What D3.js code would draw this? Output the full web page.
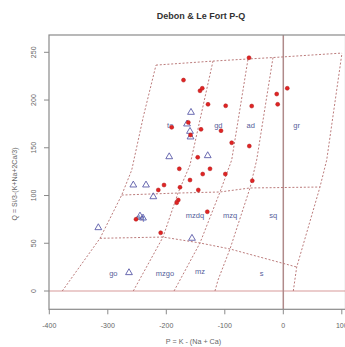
<!DOCTYPE html>
<html>
<head>
<meta charset="utf-8">
<script src="https://cdnjs.cloudflare.com/ajax/libs/d3/7.8.5/d3.min.js"></script>
<style>
  body { margin: 0; background: #fff; }
  text { font-family: "Liberation Sans", Arial, sans-serif; }
</style>
</head>
<body>
<div id="chart"></div>
<script>
// Debon & Le Fort P-Q diagram (GCDkit style)

// axis ticks
const xTicks = [-400, -300, -200, -100, 0, 100];
const yTicks = [0, 50, 100, 150, 200, 250];

// field boundaries, each one a polyline of [P, Q]
const leftBoundary = [[-377.8, 0], [-313.3, 55.2], [-276.2, 100.5], [-259.1, 126.7], [-239.3, 182.5], [-217.6, 236.6]];
const line1 = [[-256.4, 0], [-205.6, 56.5], [-180, 102.6], [-159.5, 131.9], [-120.2, 240.8]];
const line2 = [[-186.8, 0], [-176.6, 11.5], [-142.4, 50.3], [-108.2, 103.7], [-88.2, 137.2], [-60.3, 243]];
const line3 = [[-116.8, 0], [-111.6, 11.5], [-91.1, 44], [-56.9, 107.9], [-45.5, 137.2], [-17.6, 244.5]];
const rightBoundary = [[17.1, 0], [22.9, 25.1], [62.7, 108.9], [74.2, 137.2], [100.3, 249.2]];
const lowerLine = [[-313.3, 55.2], [-205.6, 56.5], [-142.4, 50.3], [-91.1, 44], [22.9, 25.1]];
const upperLine = [[-276.2, 100.5], [-180, 102.6], [-108.2, 103.7], [-56.9, 107.9], [62.7, 108.9]];
const topLine = [[-217.6, 236.6], [-120.2, 240.8], [-60.3, 243], [-17.6, 244.5], [100.3, 249.2]];

// field names and where they sit
const fieldNames = ["to", "gd", "ad", "gr", "dq", "mzdq", "mzq", "sq", "go", "mzgo", "mz", "s"];
const fieldP = [-193.3, -111.1, -55.7, 22.9, -245, -150.9, -91.1, -17.1, -290.6, -202.2, -142.4, -36.9];
const fieldQ = [173.8, 173.8, 173.8, 173.8, 77.5, 79.6, 79.6, 79.6, 18.5, 18.5, 20.2, 18.5];

// samples, group 1 (red dots)
const redP = [-58.6, -170.6, -142.4, -138.5, 6.8, -11.3, -9.6, -128.7, -98.5, -54, -190.8, -162.4, -140.7,
  -106.5, -88.2, -58.1, -146.3, -177.8, -125.3, -137.8, -99.1, -159.5, -53, -203.9, -213.7, -176.6,
  -145.3, -179.5, -182.2, -129.9, -209.6, -251.8, -158.6];
const redQ = [244.3, 220.9, 209.7, 212.3, 212.3, 206.3, 195.5, 195.5, 194, 193.7, 171.4, 176.6, 169.3,
  167.9, 155.3, 151.8, 140, 128, 128, 122.5, 122.5, 116.2, 115.5, 111, 105.8, 108.6,
  105.8, 95.3, 92.5, 83, 61, 75.1, 163.4];

// samples, group 2 (blue triangles)
const blueP = [-157.8, -164.6, -159.5, -158.6, -195, -129.2, -234.7, -222.2, -245, -239.8, -316.2, -156.1, -263.8, -256.4];
const blueQ = [187.1, 174.9, 167.2, 161.3, 140.6, 141.7, 111, 98.7, 78.5, 76.4, 66.3, 55.2, 19.2, 111];

const svgWidth = 345;
const svgHeight = 347;

var svg = d3.select("#chart")
  .append("svg")
  .attr("width", svgWidth)
  .attr("height", svgHeight);

// plot region
var margin = {top: 35, left: 49, bottom: 309.3, right: 345.5};

var x = d3.scaleLinear().domain([-400, 100]).range([49.3, 341.8]);
var y = d3.scaleLinear().domain([0, 250]).range([291, 52.3]);

svg.append("clipPath").attr("id", "plotclip")
  .append("rect")
  .attr("x", margin.left).attr("y", margin.top)
  .attr("width", margin.right - margin.left).attr("height", margin.bottom - margin.top);

var plot = svg.append("g").attr("clip-path", "url(#plotclip)");

// reference lines P = 0 and Q = 0
plot.append("line")
  .attr("x1", margin.left).attr("x2", margin.right)
  .attr("y1", y(0)).attr("y2", y(0))
  .attr("stroke", "#d89a9a").attr("stroke-width", 1.1);
plot.append("line")
  .attr("x1", x(0)).attr("x2", x(0))
  .attr("y1", margin.top).attr("y2", margin.bottom)
  .attr("stroke", "#b08a8a").attr("stroke-width", 1.5);

// dashed field boundaries
var line = d3.line().x(d => x(d[0])).y(d => y(d[1]));
var boundaries = [leftBoundary, line1, line2, line3, rightBoundary, lowerLine, upperLine, topLine];
plot.selectAll(".boundary")
  .data(boundaries)
  .enter().append("path")
    .attr("class", "boundary")
    .attr("d", line)
    .attr("fill", "none")
    .attr("stroke", "#bc7c7c")
    .attr("stroke-width", 1)
    .attr("stroke-dasharray", "2,1.8");

// field labels
plot.selectAll(".field")
  .data(fieldNames)
  .enter().append("text")
    .attr("class", "field")
    .attr("x", (d, i) => x(fieldP[i]))
    .attr("y", (d, i) => y(fieldQ[i]))
    .attr("dy", "0.35em")
    .attr("text-anchor", "middle")
    .attr("font-size", "7.5px")
    .attr("fill", "#56609a")
    .text(d => d);

// blue triangles
var tri = d3.symbol().type(d3.symbolTriangle).size(20);
plot.selectAll(".tri")
  .data(blueP)
  .enter().append("path")
    .attr("class", "tri")
    .attr("transform", (d, i) => "translate(" + x(d) + "," + y(blueQ[i]) + ")")
    .attr("d", tri)
    .attr("fill", "none")
    .attr("stroke", "#5a5aa8")
    .attr("stroke-width", 0.9);

// red dots
plot.selectAll(".dot")
  .data(redP)
  .enter().append("circle")
    .attr("class", "dot")
    .attr("cx", d => x(d))
    .attr("cy", (d, i) => y(redQ[i]))
    .attr("r", 2)
    .attr("fill", "#e02424")
    .attr("stroke", "#b01818")
    .attr("stroke-width", 0.5);

// box
svg.append("rect")
  .attr("x", margin.left).attr("y", margin.top)
  .attr("width", margin.right - margin.left).attr("height", margin.bottom - margin.top)
  .attr("fill", "none")
  .attr("stroke", "#8a8a8a")
  .attr("stroke-width", 1.2);

// x axis
var gx = svg.append("g").attr("transform", "translate(0," + margin.bottom + ")");
gx.selectAll("line")
  .data(xTicks)
  .enter().append("line")
    .attr("x1", d => x(d)).attr("x2", d => x(d))
    .attr("y1", 0).attr("y2", 5)
    .attr("stroke", "#8a8a8a");
gx.selectAll("text")
  .data(xTicks)
  .enter().append("text")
    .attr("x", d => x(d))
    .attr("y", 16.4)
    .attr("dy", "0.35em")
    .attr("text-anchor", "middle")
    .attr("font-size", "7px")
    .attr("fill", "#666")
    .text(d => d);

// y axis
var gy = svg.append("g").attr("transform", "translate(" + margin.left + ",0)");
gy.selectAll("line")
  .data(yTicks)
  .enter().append("line")
    .attr("x1", 0).attr("x2", -5)
    .attr("y1", d => y(d)).attr("y2", d => y(d))
    .attr("stroke", "#8a8a8a");
gy.selectAll("text")
  .data(yTicks)
  .enter().append("text")
    .attr("transform", d => "translate(-15," + y(d) + ") rotate(-90)")
    .attr("dy", "0.35em")
    .attr("text-anchor", "middle")
    .attr("font-size", "7px")
    .attr("fill", "#666")
    .text(d => d);

// titles
svg.append("text")
  .attr("x", 201).attr("y", 16)
  .attr("dy", "0.35em")
  .attr("text-anchor", "middle")
  .attr("font-size", "9px")
  .attr("font-weight", "bold")
  .attr("fill", "#333")
  .text("Debon & Le Fort P-Q");

svg.append("text")
  .attr("x", 193.5).attr("y", 341.5)
  .attr("dy", "0.35em")
  .attr("text-anchor", "middle")
  .attr("font-size", "7.2px")
  .attr("fill", "#666")
  .text("P = K - (Na + Ca)");

svg.append("text")
  .attr("transform", "translate(15,184) rotate(-90)")
  .attr("dy", "0.35em")
  .attr("text-anchor", "middle")
  .attr("font-size", "7px")
  .attr("fill", "#666")
  .text("Q = Si/3-(K+Na+2Ca/3)");
</script>
</body>
</html>
